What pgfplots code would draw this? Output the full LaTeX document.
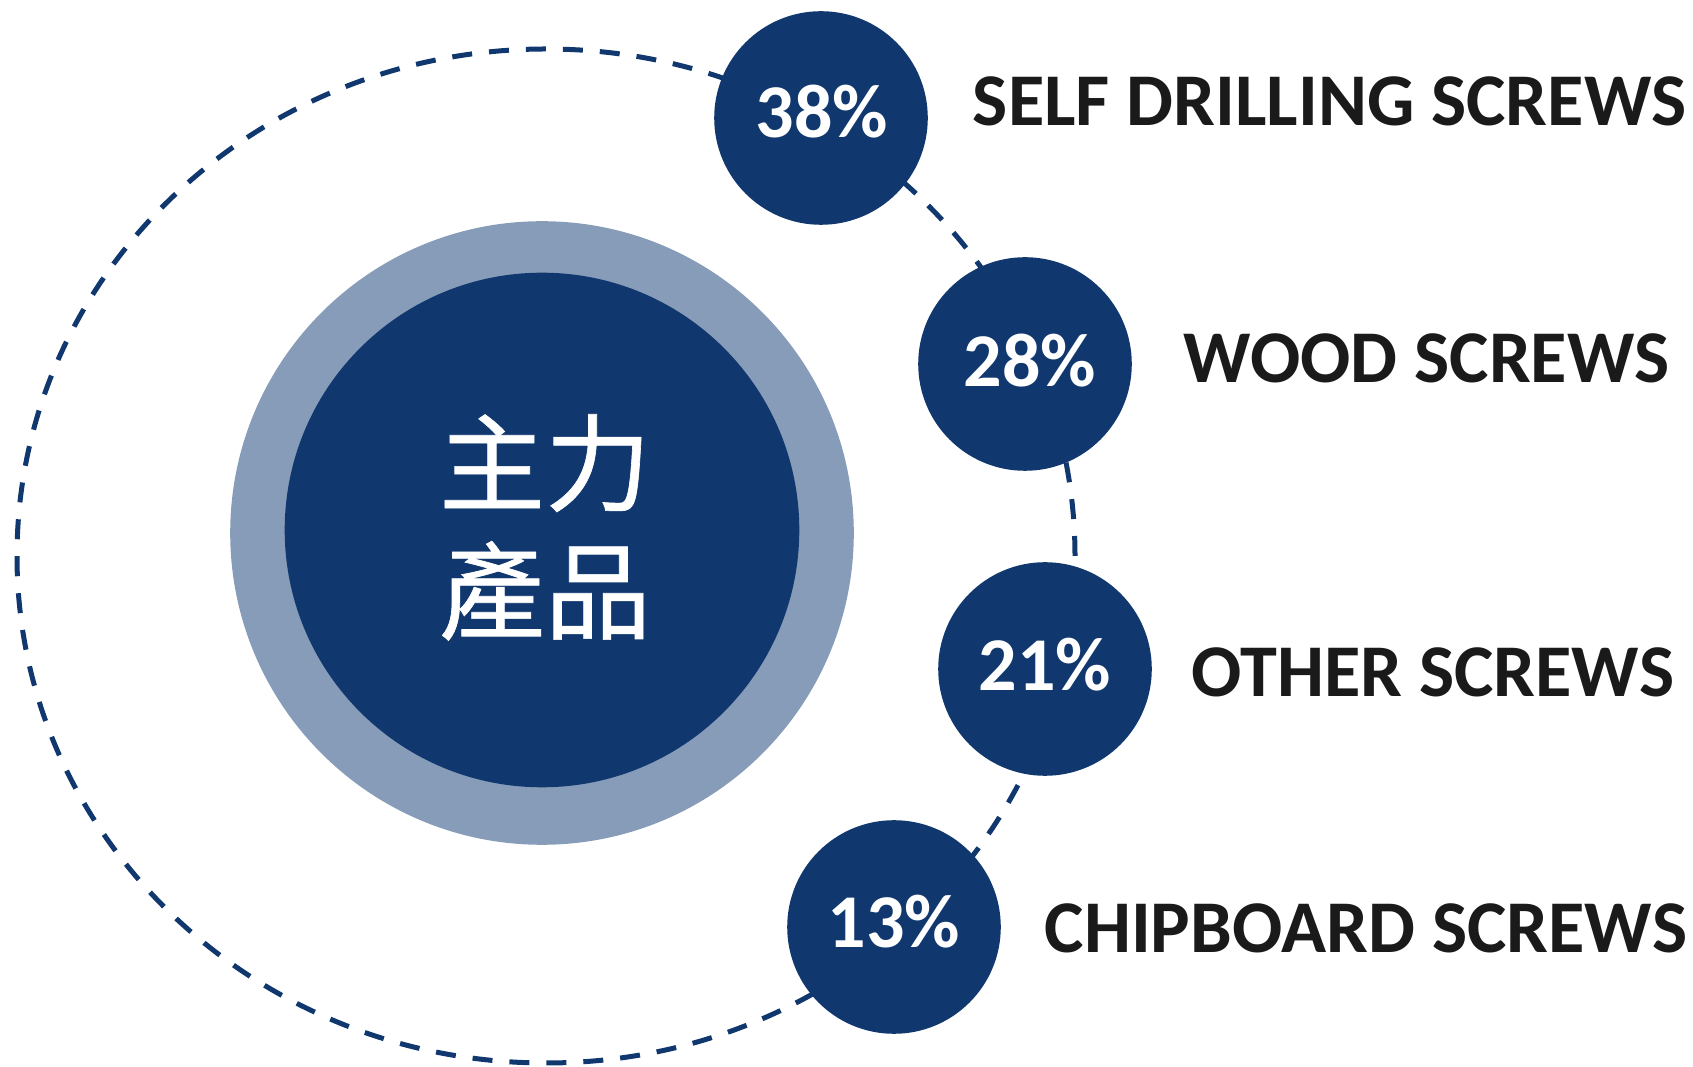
\documentclass[border=0pt]{standalone}
\usepackage{fontspec}
\setmainfont{Carlito}
\newfontfamily\cjk[FakeBold=0.6]{Noto Sans CJK TC}
\usepackage{pgfplots}
\pgfplotsset{compat=1.18}
\definecolor{navy}{HTML}{10386F}
\definecolor{ringblue}{HTML}{879CB8}
\definecolor{ink}{HTML}{1A1A1A}

% dashed orbit round the centre (semi-axes 529 x 507 px at 0.25pt/px)
\pgfdeclareplotmark{orbit}{%
  \pgfpathellipse{\pgfpointorigin}{\pgfqpoint{132.25pt}{0pt}}{\pgfqpoint{0pt}{126.75pt}}%
  \pgfusepathqstroke}

\pgfplotsset{
  label/.style={draw=none, mark=none, nodes near coords, point meta=explicit symbolic,
    every node near coord/.append style={inner sep=0pt, #1}},
}

\begin{document}
\begin{tikzpicture}
\begin{axis}[
  scale only axis, width=423.25pt, height=266.75pt,
  xmin=0, xmax=1693, ymin=0, ymax=1067, y dir=reverse,
  hide axis, clip=false,
]
% orbit
\addplot[only marks, mark=orbit,
  mark options={draw=navy, line width=1.25pt, dash pattern=on 5pt off 4.25pt}]
  coordinates {(546,556)};
% centre rings
\addplot[only marks, mark=*, mark size=77.75pt, mark options={fill=ringblue, draw=ringblue}]
  coordinates {(542,533)};
\addplot[only marks, mark=*, mark size=64.125pt, mark options={fill=navy, draw=navy}]
  coordinates {(542,530)};
% share bubbles
\addplot[only marks, mark=*, mark size=26.5pt, mark options={fill=navy, draw=navy}]
  coordinates {(821,118) (1025,364) (1045,669) (894,927)};
% shares
\addplot[label={anchor=base, text=white, font=\bfseries\fontsize{19}{19}\selectfont}]
  coordinates {(822,138) [38\%] (1030,387) [28\%] (1045,691) [21\%] (894,948) [13\%]};
% product names
\addplot[label={anchor=base west, text=ink, font=\bfseries\fontsize{18.6}{19}\selectfont}]
  coordinates {(972,126) [SELF DRILLING SCREWS] (1183,383) [WOOD SCREWS]
               (1191,697) [OTHER SCREWS] (1044,953) [CHIPBOARD SCREWS]};
% centre title
\addplot[draw=none, mark=none, nodes near coords={主力\\產品},
  every node near coord/.append style={inner sep=0pt, align=center, anchor=center,
    text=white, font=\cjk\fontsize{26.5}{32}\selectfont}]
  coordinates {(545,527.5)};
\end{axis}
\pgfresetboundingbox
\useasboundingbox (current axis.south west) rectangle (current axis.north east);
\end{tikzpicture}
\end{document}
